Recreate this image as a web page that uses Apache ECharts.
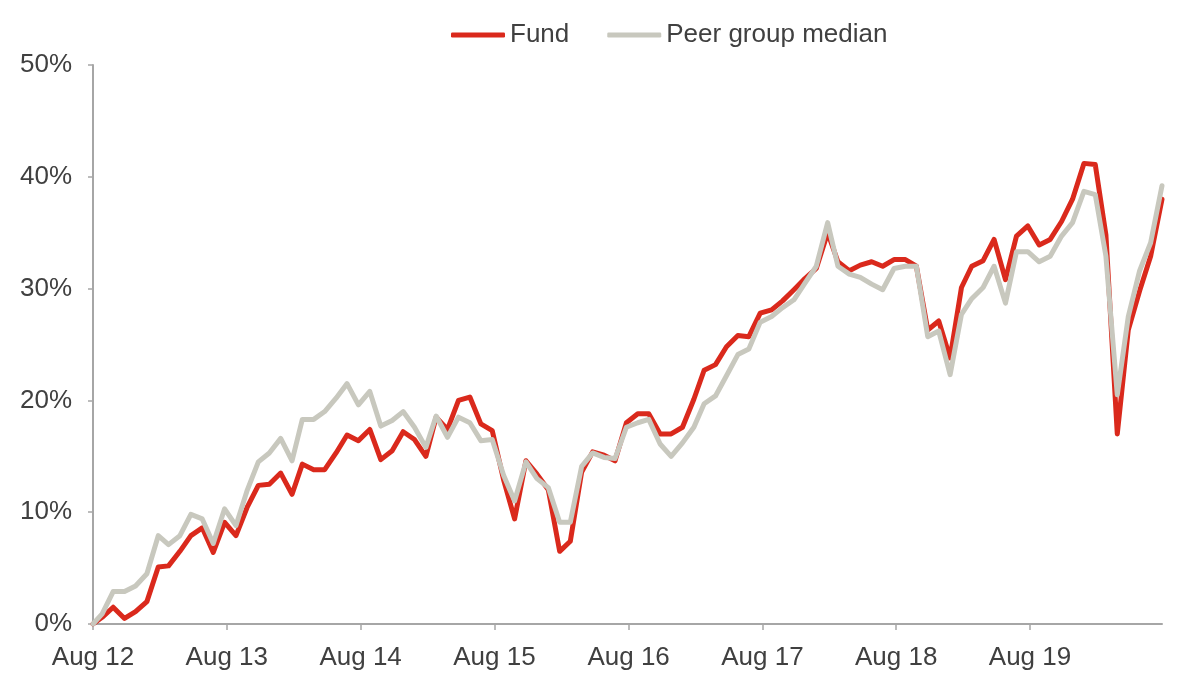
<!DOCTYPE html>
<html>
<head>
<meta charset="utf-8">
<script src="https://cdn.jsdelivr.net/npm/echarts@6/dist/echarts.min.js"></script>
<style>
  html, body { margin: 0; padding: 0; background: #fff; }
  #chart { width: 1183px; height: 675px; }
</style>
</head>
<body>
<div id="chart"></div>
<script>
// first point is the launch date, then month-end values Aug 2012 .. Jul 2020
const startDate = '2012-08-06';
const firstMonth = '2012-08';
const monthCount = 96;

const tickDates = ['2012-08-06', '2013-08-06', '2014-08-06', '2015-08-06',
  '2016-08-06', '2017-08-06', '2018-08-06', '2019-08-06'];
const tickLabels = ['Aug 12', 'Aug 13', 'Aug 14', 'Aug 15', 'Aug 16', 'Aug 17', 'Aug 18', 'Aug 19'];

const fund = [
  0, 0.6, 1.5, 0.5, 1.1, 2.0, 5.1, 5.2, 6.5, 7.9, 8.6, 6.4, 9.1,
  7.9, 10.4, 12.4, 12.5, 13.5, 11.6, 14.3, 13.8, 13.8, 15.3, 16.9, 16.4,
  17.4, 14.7, 15.5, 17.2, 16.5, 15.0, 18.5, 17.4, 20.0, 20.3, 17.9, 17.3,
  12.9, 9.4, 14.6, 13.4, 12.0, 6.5, 7.4, 13.6, 15.4, 15.1, 14.6, 18.0,
  18.8, 18.8, 17.0, 17.0, 17.6, 20.1, 22.7, 23.2, 24.8, 25.8, 25.7, 27.8,
  28.1, 28.9, 29.9, 30.9, 31.8, 35.0, 32.4, 31.6, 32.1, 32.4, 32.0, 32.6,
  32.6, 32.0, 26.3, 27.1, 23.8, 30.1, 32.0, 32.5, 34.4, 30.8, 34.7, 35.6,
  33.9, 34.4, 36.0, 38.0, 41.2, 41.1, 34.8, 17.0, 26.3, 29.8, 32.9, 38.0
];
const peer = [
  0, 0.9, 2.9, 2.9, 3.4, 4.5, 7.9, 7.1, 7.9, 9.8, 9.4, 7.2, 10.3,
  8.8, 11.9, 14.5, 15.3, 16.6, 14.6, 18.3, 18.3, 19.0, 20.2, 21.5, 19.6,
  20.8, 17.7, 18.2, 19.0, 17.6, 15.8, 18.6, 16.7, 18.5, 18.0, 16.4, 16.5,
  13.3, 11.0, 14.5, 13.0, 12.2, 9.1, 9.1, 14.1, 15.3, 14.9, 14.8, 17.6,
  18.0, 18.3, 16.1, 15.0, 16.2, 17.6, 19.7, 20.4, 22.2, 24.1, 24.6, 27.0,
  27.5, 28.3, 29.0, 30.5, 32.0, 35.9, 32.0, 31.3, 31.0, 30.4, 29.9, 31.8,
  32.0, 32.0, 25.7, 26.2, 22.3, 27.7, 29.1, 30.1, 32.0, 28.7, 33.3, 33.3,
  32.4, 32.9, 34.7, 35.9, 38.7, 38.4, 32.9, 20.5, 27.5, 31.6, 34.1, 39.2
];

const DAY = 86400000;
function toTime(s) {
  const p = s.split('-').map(Number);
  return new Date(p[0], p[1] - 1, p[2]).getTime();
}
const t0 = toTime(startDate);
const dayOf = t => Math.round((t - t0) / DAY);

// days since start: start date, then the last day of each month
const days = [0];
{
  const [y0, m0] = firstMonth.split('-').map(Number);
  for (let i = 0; i < monthCount; i++) {
    days.push(dayOf(new Date(y0, m0 - 1 + i + 1, 0).getTime()));
  }
}
const tickDays = tickDates.map(s => dayOf(toTime(s)));

const textColor = '#404040';
const axisColor = '#a6a6a6';
const font = "'Liberation Sans', Arial, sans-serif";

const chart = echarts.init(document.getElementById('chart'));
chart.setOption({
  animation: false,
  textStyle: { fontFamily: font },
  legend: {
    top: 17,
    left: 446,
    itemWidth: 54,
    itemHeight: 5,
    itemGap: 38,
    icon: 'roundRect',
    textStyle: { color: textColor, fontSize: 26, fontFamily: font },
    data: ['Fund', 'Peer group median']
  },
  grid: { left: 93, right: 21, top: 65, bottom: 51 },
  xAxis: {
    type: 'value',
    min: 0,
    max: days[days.length - 1],
    axisLine: { lineStyle: { color: axisColor, width: 2 } },
    axisTick: { show: true, length: 6, lineStyle: { color: axisColor, width: 1.5 }, customValues: tickDays },
    axisLabel: {
      color: textColor,
      fontSize: 26,
      fontFamily: font,
      margin: 21,
      customValues: tickDays,
      formatter: v => tickLabels[tickDays.indexOf(v)] || ''
    },
    splitLine: { show: false }
  },
  yAxis: {
    type: 'value',
    min: 0,
    max: 50,
    interval: 10,
    axisLine: { show: true, lineStyle: { color: axisColor, width: 2 } },
    axisTick: { show: true, length: 5, lineStyle: { color: axisColor, width: 1.5 } },
    axisLabel: { color: textColor, fontSize: 26, fontFamily: font, margin: 21, formatter: '{value}%' },
    splitLine: { show: false }
  },
  series: [
    {
      name: 'Fund',
      type: 'line',
      data: days.map((d, i) => [d, fund[i]]),
      showSymbol: false,
      symbol: 'none',
      color: '#da291c',
      lineStyle: { color: '#da291c', width: 5, join: 'round', cap: 'round' }
    },
    {
      name: 'Peer group median',
      type: 'line',
      data: days.map((d, i) => [d, peer[i]]),
      showSymbol: false,
      symbol: 'none',
      color: '#c8c8be',
      lineStyle: { color: '#c8c8be', width: 5, join: 'round', cap: 'round' }
    }
  ]
});
</script>
</body>
</html>
